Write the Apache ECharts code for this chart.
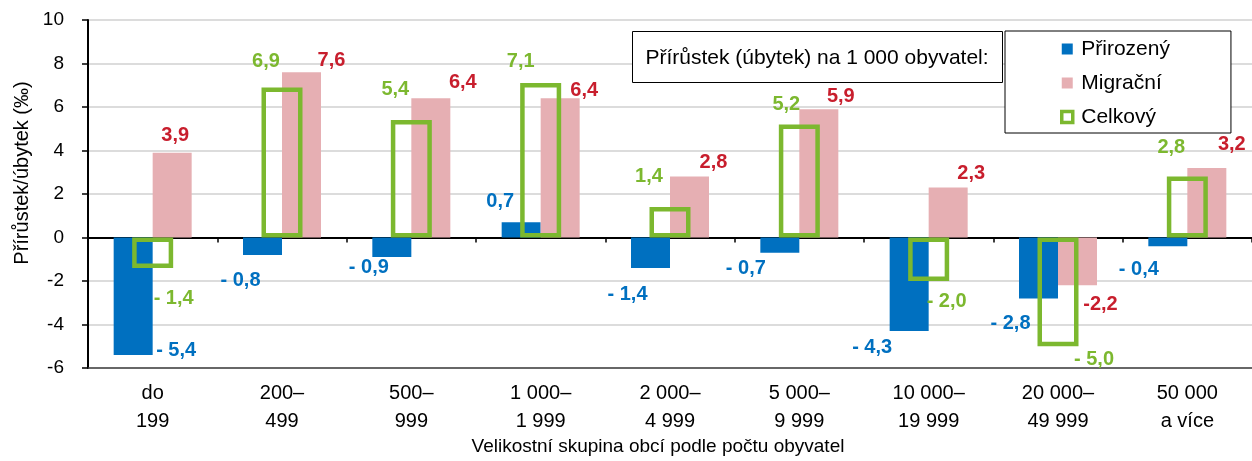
<!DOCTYPE html>
<html>
<head>
<meta charset="utf-8">
<script src="https://cdn.jsdelivr.net/npm/echarts@6/dist/echarts.min.js"></script>
<style>
  html, body { margin: 0; padding: 0; background: #fff; }
  #chart { width: 1252px; height: 461px; }
</style>
</head>
<body>
<div id="chart"></div>
<script>
const categories = ['do\n199', '200–\n499', '500–\n999', '1 000–\n1 999', '2 000–\n4 999',
    '5 000–\n9 999', '10 000–\n19 999', '20 000–\n49 999', '50 000\na více'];
const prirozeny = [-5.4, -0.8, -0.9, 0.7, -1.4, -0.7, -4.3, -2.8, -0.4];
const migracni = [3.9, 7.6, 6.4, 6.4, 2.8, 5.9, 2.3, -2.2, 3.2];
const celkovy = [-1.4, 6.9, 5.4, 7.1, 1.4, 5.2, -2.0, -5.0, 2.8];
const yMin = -6, yMax = 10, yStep = 2;

// label nudges in px from the end of each bar (labels were placed by hand in the original)
const blueNudge = [[43, -4], [-22, 26], [-23, 10], [-21, -21], [-23, 27], [-34, 16], [-37, 16], [-28, 25], [-29, 23]];
const pinkNudge = [[3, -17], [30, -12], [32, -16], [24, -8], [24, -14], [22, -13], [23, -14], [23, 19], [25, -23]];
const greenNudge = [[21, 31], [-16, -26], [-16, -31], [-20, -22], [-21, -31], [-13, -20], [18, 20], [36, 13], [-16, -29]];

const BLUE = '#0070C0', PINK = '#E6AFB3', GREEN = '#7CB82F', RED = '#C81E2D';
const FONT = '"Liberation Sans", Arial, sans-serif';

function fmt(v, spaced) {
    const s = Math.abs(v).toFixed(1).replace('.', ',');
    return v < 0 ? (spaced ? '- ' : '-') + s : s;
}

function withLabels(values, nudge) {
    return values.map((v, i) => ({
        value: v,
        label: { position: v >= 0 ? ['50%', 0] : ['50%', '100%'], offset: nudge[i] }
    }));
}

function labelStyle(color, spaced) {
    return {
        show: true, align: 'center', verticalAlign: 'middle',
        fontFamily: FONT, fontSize: 20, fontWeight: 'bold', color: color,
        formatter: p => fmt(p.value, spaced)
    };
}

const chart = echarts.init(document.getElementById('chart'));
const sq = 'path://M0,0L10,0L10,10L0,10Z';

chart.setOption({
    animation: false,
    textStyle: { fontFamily: FONT },
    grid: { left: 88, right: 0, top: 20, bottom: 93, containLabel: false },
    legend: {
        orient: 'vertical', left: 1005, top: 31,
        padding: [7, 61, 5, 55],
        itemWidth: 18, itemHeight: 11, itemGap: 12,
        backgroundColor: '#fff', borderColor: '#000', borderWidth: 1, borderRadius: 0,
        textStyle: { fontFamily: FONT, fontSize: 21, lineHeight: 22, color: '#000' },
        selectedMode: false,
        data: [
            { name: 'Přirozený', icon: sq, itemStyle: { color: BLUE } },
            { name: 'Migrační', icon: sq, itemStyle: { color: PINK } },
            { name: 'Celkový', icon: sq, itemStyle: { color: '#fff', borderColor: GREEN, borderWidth: 3.5 } }
        ]
    },
    xAxis: [
        {
            type: 'category', data: categories, position: 'bottom',
            axisLine: { onZero: false, lineStyle: { color: '#404040', width: 1.5 } },
            axisTick: { show: false },
            axisLabel: { interval: 0, fontFamily: FONT, fontSize: 20, lineHeight: 28, margin: 11, color: '#000' }
        },
        {
            type: 'category', data: categories, position: 'bottom',
            axisLine: { onZero: true, lineStyle: { color: '#000', width: 2 } },
            axisTick: { show: true, length: 5, lineStyle: { color: '#000', width: 1.5 } },
            axisLabel: { show: false }
        }
    ],
    yAxis: {
        type: 'value', min: yMin, max: yMax, interval: yStep,
        axisLine: { show: true, lineStyle: { color: '#000', width: 2 } },
        axisTick: { show: true, length: 6, lineStyle: { color: '#000', width: 1.5 } },
        axisLabel: { fontFamily: FONT, fontSize: 19, margin: 24, color: '#000' },
        splitLine: { lineStyle: { color: '#d0d0d0', width: 1.5 } }
    },
    graphic: [
        {
            type: 'rect', z: 100,
            shape: { x: 632.5, y: 31.5, width: 370, height: 51 },
            style: { fill: '#fff', stroke: '#000', lineWidth: 1 }
        },
        {
            type: 'text', z: 101, x: 817, y: 58,
            style: { text: 'Přírůstek (úbytek) na 1 000 obyvatel:', font: '21px ' + FONT,
                     textAlign: 'center', textVerticalAlign: 'middle', fill: '#000' }
        },
        {
            type: 'text', z: 101, x: 658, y: 447,
            style: { text: 'Velikostní skupina obcí podle počtu obyvatel', font: '19px ' + FONT,
                     textAlign: 'center', textVerticalAlign: 'middle', fill: '#000' }
        },
        {
            type: 'text', z: 101, x: 22, y: 173, rotation: Math.PI / 2,
            style: { text: 'Přírůstek/úbytek (‰)', font: '20px ' + FONT,
                     textAlign: 'center', textVerticalAlign: 'middle', fill: '#000' }
        }
    ],
    series: [
        {
            name: 'Přirozený', type: 'bar', xAxisIndex: 0,
            barWidth: 39, barGap: '0%',
            itemStyle: { color: BLUE },
            label: labelStyle(BLUE, true),
            data: withLabels(prirozeny, blueNudge)
        },
        {
            name: 'Migrační', type: 'bar', xAxisIndex: 0,
            barWidth: 39, barGap: '0%',
            itemStyle: { color: PINK },
            label: labelStyle(RED, false),
            data: withLabels(migracni, pinkNudge)
        },
        {
            name: 'Celkový', type: 'bar', xAxisIndex: 1, z: 3,
            barWidth: 41,
            itemStyle: { color: 'rgba(0,0,0,0)', borderColor: GREEN, borderWidth: 4.5 },
            label: labelStyle(GREEN, true),
            data: withLabels(celkovy, greenNudge)
        }
    ]
});
</script>
</body>
</html>
